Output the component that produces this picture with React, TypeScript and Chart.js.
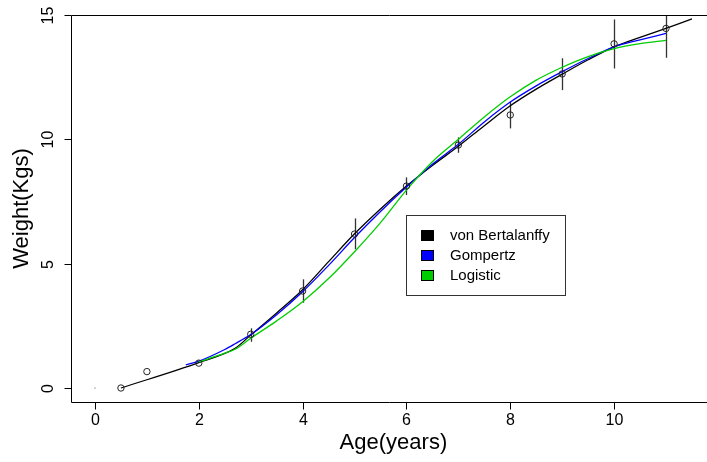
import React, { useEffect, useRef } from "react";
import { Chart, registerables } from "chart.js";
Chart.register(...registerables);

// Observed data
const obsAge = [0.5, 1, 2, 3, 4, 5, 6, 7, 8, 9, 10, 11];
const obsWeight = [0, 0.66, 1.0, 2.16, 3.9, 6.19, 8.12, 9.77, 10.98, 12.63, 13.84, 14.46];
const errLow = [null, null, null, 1.86, 3.43, 5.58, 7.76, 9.46, 10.44, 11.98, 12.85, 13.28];
const errHigh = [null, null, null, 2.4, 4.37, 6.82, 8.47, 10.08, 11.51, 13.26, 14.82, 15.6];
const originAge = [0];
const originWeight = [0];

// Fitted curves
const vbAge = [0.5, 2, 2.7, 3, 3.5, 4, 4.5, 5, 5.5, 6, 6.5, 7, 7.5, 8, 8.5, 9, 9.5, 10, 10.5, 11, 11.5];
const vbWeight = [0, 1.02, 1.6, 2.13, 3.02, 3.95, 5.08, 6.2, 7.2, 8.12, 8.95, 9.72, 10.55, 11.35, 12.02, 12.62, 13.2, 13.72, 14.1, 14.46, 14.84];
const gompAge = [1.75, 2, 2.5, 2.7, 3, 3.5, 4, 4.5, 5, 5.5, 6, 6.5, 7, 7.5, 8, 8.5, 9, 9.5, 10, 10.5, 11];
const gompWeight = [0.93, 1.08, 1.55, 1.78, 2.15, 2.95, 3.87, 4.93, 6.05, 7.1, 8.08, 9.0, 9.8, 10.7, 11.5, 12.15, 12.72, 13.25, 13.72, 14.0, 14.26];
const logAge = [2, 2.5, 2.7, 3, 3.5, 4, 4.5, 5, 5.5, 6, 6.5, 7, 7.5, 8, 8.5, 9, 9.5, 10, 10.5, 11];
const logWeight = [1.05, 1.4, 1.56, 2.0, 2.7, 3.47, 4.4, 5.48, 6.65, 7.96, 9.1, 10.0, 10.9, 11.71, 12.38, 12.9, 13.33, 13.65, 13.85, 13.98];

const xTicks = [0, 2, 4, 6, 8, 10];
const yTicks = [0, 5, 10, 15];
const legendLabels = ["von Bertalanffy", "Gompertz", "Logistic"];
const legendColors = ["#000000", "#0000FF", "#00CD00"];

const FONT = "'Liberation Sans', Arial, Helvetica, sans-serif";

const toPts = (xs: number[], ys: number[]) => xs.map((x, i) => ({ x, y: ys[i] }));

const decorPlugin = {
  id: "decor",
  beforeDatasetsDraw(chart: any) {
    const { ctx, chartArea, scales } = chart;
    const xs = scales.x, ys = scales.y;
    ctx.save();
    ctx.beginPath();
    ctx.rect(chartArea.left, chartArea.top, chartArea.right - chartArea.left, chartArea.bottom - chartArea.top);
    ctx.clip();
    ctx.strokeStyle = "#333";
    ctx.lineWidth = 1.3;
    obsAge.forEach((a, i) => {
      const lo = errLow[i], hi = errHigh[i];
      if (lo == null || hi == null) return;
      const px = Math.round(xs.getPixelForValue(a)) + 0.5;
      ctx.beginPath();
      ctx.moveTo(px, ys.getPixelForValue(lo));
      ctx.lineTo(px, ys.getPixelForValue(hi));
      ctx.stroke();
    });
    ctx.restore();
  },
  afterDraw(chart: any) {
    const { ctx, chartArea, scales } = chart;
    const xs = scales.x, ys = scales.y;
    const L = chartArea.left + 0.5, R = chartArea.right, T = chartArea.top + 0.5, B = chartArea.bottom + 0.5;
    ctx.save();
    ctx.strokeStyle = "#000";
    ctx.lineWidth = 1;
    // frame (left, top, bottom)
    ctx.beginPath();
    ctx.moveTo(R, T); ctx.lineTo(L, T); ctx.lineTo(L, B); ctx.lineTo(R, B);
    ctx.stroke();
    // x ticks
    ctx.fillStyle = "#000";
    ctx.font = `16px ${FONT}`;
    ctx.textAlign = "center";
    ctx.textBaseline = "middle";
    xTicks.forEach((t) => {
      const px = Math.round(xs.getPixelForValue(t)) + 0.5;
      ctx.beginPath(); ctx.moveTo(px, B); ctx.lineTo(px, B + 7); ctx.stroke();
      ctx.fillText(String(t), px, 421);
    });
    // y ticks
    yTicks.forEach((t) => {
      const py = Math.round(ys.getPixelForValue(t)) + 0.5;
      ctx.beginPath(); ctx.moveTo(L, py); ctx.lineTo(L - 7, py); ctx.stroke();
      ctx.save();
      ctx.translate(49, py);
      ctx.rotate(-Math.PI / 2);
      ctx.fillText(String(t), 0, 0);
      ctx.restore();
    });
    // axis titles
    ctx.font = `22px ${FONT}`;
    ctx.fillText("Age(years)", (chartArea.left + xs.getPixelForValue(11.96)) / 2, 443);
    ctx.save();
    ctx.translate(22, (chartArea.top + chartArea.bottom) / 2);
    ctx.rotate(-Math.PI / 2);
    ctx.fillText("Weight(Kgs)", 0, 0);
    ctx.restore();
    // legend
    ctx.fillStyle = "#fff";
    ctx.fillRect(406.5, 215.5, 159, 80);
    ctx.strokeStyle = "#333";
    ctx.strokeRect(406.5, 215.5, 159, 80);
    ctx.font = `15px ${FONT}`;
    ctx.textAlign = "left";
    legendLabels.forEach((lab, i) => {
      const y = 230 + i * 20;
      ctx.fillStyle = legendColors[i];
      ctx.fillRect(421.5, y + 0.5, 12, 10);
      ctx.strokeStyle = "#000";
      ctx.strokeRect(421.5, y + 0.5, 12, 10);
      ctx.fillStyle = "#000";
      ctx.fillText(lab, 450, y + 5.5);
    });
    ctx.restore();
  },
};

export default function App() {
  const ref = useRef<HTMLCanvasElement | null>(null);
  useEffect(() => {
    if (!ref.current) return;
    const curve = (label: string, xs: number[], ys: number[], color: string) => ({
      type: "scatter" as const,
      label,
      data: toPts(xs, ys),
      showLine: true,
      borderColor: color,
      backgroundColor: color,
      borderWidth: 1.3,
      pointRadius: 0,
      cubicInterpolationMode: "monotone" as const,
    });
    const chart = new Chart(ref.current, {
      type: "scatter",
      data: {
        datasets: [
          {
            label: "Observed",
            data: toPts(obsAge, obsWeight),
            pointStyle: "circle",
            pointRadius: 3.2,
            borderWidth: 1,
            borderColor: "#222",
            backgroundColor: "rgba(0,0,0,0)",
            showLine: false,
          },
          {
            label: "Origin",
            data: toPts(originAge, originWeight),
            pointRadius: 0.6,
            borderWidth: 0,
            backgroundColor: "#444",
          },
          curve("Logistic", logAge, logWeight, "#00CD00"),
          curve("Gompertz", gompAge, gompWeight, "#0000FF"),
          curve("von Bertalanffy", vbAge, vbWeight, "#000000"),
        ] as any,
      },
      options: {
        animation: false,
        responsive: false,
        devicePixelRatio: 1,
        layout: { autoPadding: false, padding: { left: 71, right: 0, top: 15, bottom: 60 } },
        plugins: { legend: { display: false }, tooltip: { enabled: false } },
        events: [],
        scales: {
          x: { type: "linear", min: -0.462, max: 11.79, display: false },
          y: { type: "linear", min: -0.563, max: 15, display: false },
        },
      },
      plugins: [decorPlugin],
    });
    return () => chart.destroy();
  }, []);
  return (
    <div style={{ position: "absolute", left: 0, top: 0, width: 707, height: 462, background: "#fff" }}>
      <canvas ref={ref} width={707} height={462} style={{ display: "block" }} />
    </div>
  );
}
